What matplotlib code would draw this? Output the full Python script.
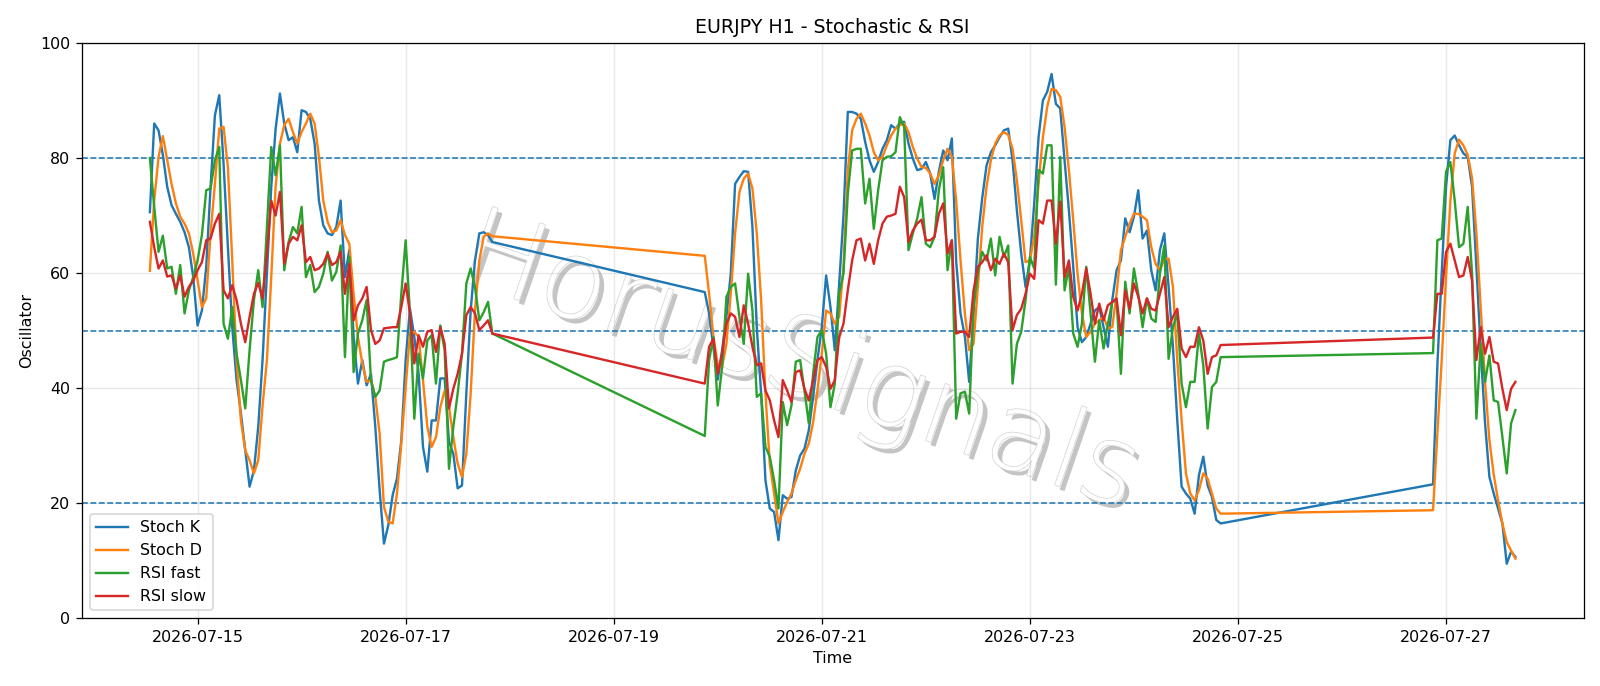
import numpy as np
import pandas as pd
import matplotlib
matplotlib.use("Agg")
import matplotlib.pyplot as plt
import matplotlib.dates as mdates
import matplotlib.patheffects as pe

# ---- data (hourly, three trading segments) ----
segment_starts = ["2026-07-14 13:00", "2026-07-19 21:00", "2026-07-26 21:00"]

stoch_k_1 = [70.6, 86.0, 84.8, 80.5, 75.0, 71.8, 70.3, 68.9, 67.1, 64.5, 59.3,
             50.9, 53.5, 61.1, 75.0, 87.4, 90.9, 79.0, 64.5, 50.6, 41.4,
             35.6, 29.2, 22.9, 25.7, 33.3, 45.0, 60.0, 75.0, 85.0, 91.2,
             86.0, 83.1, 83.6, 81.0, 88.3, 88.0, 86.8, 82.5, 72.6, 68.3,
             66.9, 66.6, 68.0, 72.6, 59.3, 64.0, 48.9, 40.8, 44.9, 40.5,
             42.5, 33.3, 22.3, 13.0, 16.2, 21.4, 24.3, 30.9, 44.9, 53.8,
             48.9, 42.5, 29.8, 25.5, 34.4, 34.4, 41.7, 41.7, 30.7, 28.6,
             22.6, 23.1, 39.1, 53.5, 62.2, 66.9, 67.1, 66.6, 65.4]
stoch_d_1 = [60.4, 72.6, 80.2, 83.8, 79.6, 75.5, 72.1, 69.8, 68.6, 66.9, 63.4,
             58.7, 54.1, 55.6, 66.9, 75.5, 85.1, 85.4, 78.4, 62.2, 44.9,
             34.4, 29.2, 27.5, 25.2, 27.5, 37.0, 44.9, 59.3, 75.0, 82.5,
             85.7, 86.8, 84.5, 82.5, 84.5, 86.0, 87.7, 86.0, 80.2, 72.6,
             68.9, 67.1, 67.4, 69.2, 66.6, 65.1, 56.4, 48.9, 44.3, 41.1,
             41.4, 38.5, 32.1, 19.4, 16.8, 16.5, 21.7, 30.4, 40.2, 49.5,
             49.8, 48.9, 41.4, 33.3, 29.8, 31.5, 36.7, 39.6, 36.7, 31.5,
             26.9, 24.6, 28.6, 39.1, 53.5, 62.2, 66.3, 66.9, 66.4]
rsi_fast_1 = [80.0, 71.5, 63.7, 66.5, 60.8, 61.1, 56.4, 61.4, 53.0, 57.0, 59.3,
              62.2, 66.6, 74.4, 74.7, 79.6, 81.9, 51.2, 48.6, 54.1, 46.0,
              41.4, 36.5, 46.6, 55.3, 60.5, 54.1, 68.0, 81.9, 77.0, 82.2,
              60.5, 65.4, 68.0, 66.9, 71.5, 59.3, 61.4, 56.7, 57.6, 59.9,
              63.7, 58.7, 60.2, 64.8, 45.4, 62.8, 42.8, 49.5, 51.8, 55.3,
              41.4, 38.5, 39.6, 44.6, 44.9, 45.1, 45.4, 56.4, 65.7, 53.0,
              34.7, 46.0, 41.7, 48.3, 49.2, 40.8, 50.9, 46.6, 26.0, 33.3,
              39.1, 46.0, 58.2, 60.8, 57.6, 51.8, 53.2, 55.0, 49.5]
rsi_slow_1 = [68.9, 64.5, 60.8, 62.2, 59.4, 59.6, 57.3, 59.6, 55.9, 57.6, 58.7,
              60.5, 61.9, 65.7, 66.0, 68.6, 70.3, 57.0, 55.6, 57.9, 55.3,
              51.2, 48.0, 52.4, 56.4, 58.3, 55.6, 63.4, 72.6, 70.0, 74.1,
              61.6, 65.1, 66.3, 65.7, 68.3, 61.9, 62.8, 60.5, 60.8, 61.6,
              63.4, 61.4, 61.9, 63.7, 56.4, 61.6, 51.8, 54.4, 55.6, 57.6,
              50.1, 47.7, 48.3, 50.4, 50.5, 50.6, 50.6, 54.1, 58.2, 53.0,
              44.3, 49.2, 47.2, 49.8, 50.1, 46.3, 50.6, 47.7, 36.5, 39.9,
              42.5, 46.0, 52.7, 54.1, 53.0, 50.1, 50.9, 51.8, 49.5]

stoch_k_2 = [56.7, 53.0, 47.0, 41.5, 46.6, 52.4, 59.9, 75.5, 76.7, 77.7,
             77.6, 68.0, 50.6, 39.1, 24.0, 19.1, 18.5, 13.6, 21.4, 20.8,
             21.1, 25.7, 28.3, 29.5, 32.7, 38.5, 44.9, 50.6, 59.6, 54.1,
             46.6, 58.0, 70.0, 88.0, 88.0, 87.7, 86.8, 82.8, 79.6, 77.6,
             79.3, 81.6, 83.1, 85.7, 85.1, 86.0, 86.3, 82.5, 79.9, 77.9,
             78.1, 79.3, 77.3, 72.9, 77.6, 81.3, 79.6, 83.4, 62.0, 53.0,
             49.0, 41.1, 53.0, 66.0, 73.0, 78.7, 81.0, 82.2, 83.6, 84.8,
             85.1, 79.6, 70.9, 63.4, 57.6, 62.2, 72.1, 83.6, 90.0, 91.5,
             94.6, 89.4, 88.6, 79.6, 70.9, 61.1, 50.6, 48.0, 48.9, 51.2,
             53.5, 54.1, 50.6, 47.2, 55.3, 60.5, 62.2, 69.5, 67.1, 69.8,
             74.4, 66.0, 67.4, 60.5, 57.0, 64.0, 66.9, 57.6, 47.2, 34.4,
             22.9, 21.7, 20.8, 18.2, 24.9, 28.1, 23.1, 21.1, 17.1, 16.5]
stoch_d_2 = [63.0, 56.4, 48.9, 44.0, 43.7, 47.7, 56.4, 66.9, 74.1, 76.4,
             77.3, 74.7, 66.9, 55.3, 39.1, 26.9, 21.7, 16.5, 18.5, 20.2,
             21.7, 24.0, 26.0, 28.6, 30.4, 34.1, 39.6, 46.0, 53.5, 53.0,
             51.2, 52.4, 61.1, 77.9, 84.8, 86.8, 87.7, 86.0, 83.9, 81.0,
             79.6, 80.2, 82.2, 83.9, 85.1, 85.7, 86.0, 84.5, 81.9, 79.9,
             78.4, 78.3, 77.3, 75.5, 77.0, 79.6, 81.6, 80.2, 72.6, 62.2,
             53.0, 46.6, 47.7, 57.6, 68.0, 75.0, 79.6, 82.5, 83.9, 84.5,
             84.0, 81.6, 76.1, 69.2, 61.9, 62.2, 66.3, 75.5, 83.6, 88.9,
             92.0, 91.8, 90.6, 85.4, 77.9, 69.2, 59.9, 53.0, 48.9, 49.8,
             51.2, 51.8, 52.4, 50.4, 50.6, 56.4, 64.0, 66.3, 68.6, 70.3,
             70.3, 69.8, 69.2, 64.5, 61.6, 60.5, 62.5, 62.5, 57.6, 44.9,
             34.4, 25.2, 21.7, 20.5, 22.3, 25.2, 24.3, 21.7, 19.1, 18.2]
rsi_fast_2 = [31.7, 44.9, 48.9, 37.0, 43.7, 55.9, 57.6, 58.2, 52.4, 47.7,
              59.9, 53.5, 38.5, 39.1, 29.8, 28.1, 24.0, 19.1, 37.6, 33.6,
              37.0, 44.6, 44.9, 39.6, 33.9, 42.5, 48.9, 50.1, 46.0, 36.7,
              40.8, 56.4, 59.9, 73.8, 81.3, 81.6, 81.6, 72.1, 76.4, 67.7,
              74.4, 79.6, 80.2, 80.3, 81.0, 87.1, 85.4, 64.0, 66.9, 69.5,
              73.2, 65.1, 64.5, 66.3, 74.4, 78.4, 60.5, 65.7, 34.7, 39.1,
              39.4, 35.6, 54.1, 59.9, 63.7, 62.2, 66.0, 59.6, 66.3, 62.8,
              64.8, 40.8, 47.7, 49.8, 55.3, 62.8, 60.8, 77.9, 77.3, 82.2,
              82.2, 58.0, 80.2, 57.0, 61.1, 49.5, 47.2, 51.2, 61.1, 53.0,
              44.6, 51.8, 46.9, 51.2, 55.0, 55.3, 42.5, 58.5, 53.0, 60.8,
              56.4, 50.6, 55.6, 52.1, 51.5, 59.9, 64.8, 45.1, 50.6, 53.0,
              40.8, 36.7, 41.1, 41.1, 49.5, 44.0, 33.0, 40.2, 41.1, 45.4]
rsi_slow_2 = [40.8, 47.2, 48.6, 42.5, 46.0, 51.2, 53.0, 52.4, 48.9, 54.4,
              51.2, 47.2, 44.0, 44.3, 39.6, 37.9, 34.4, 31.5, 41.4, 39.6,
              37.6, 42.8, 43.1, 39.9, 37.9, 41.4, 44.9, 45.4, 43.7, 39.9,
              41.4, 48.9, 51.2, 57.0, 62.2, 65.7, 66.0, 62.2, 65.1, 61.6,
              65.7, 68.6, 69.8, 70.0, 70.3, 75.0, 73.2, 65.4, 67.4, 68.6,
              69.3, 65.7, 65.7, 66.3, 70.3, 72.1, 63.4, 65.7, 49.5, 49.8,
              49.8, 48.9, 57.0, 61.1, 61.9, 63.1, 60.5, 62.5, 61.6, 63.4,
              61.9, 50.1, 52.7, 53.8, 56.4, 59.9, 59.0, 69.2, 68.6, 72.6,
              72.6, 65.1, 72.4, 59.3, 62.2, 55.9, 53.5, 56.4, 60.8, 56.4,
              51.2, 54.7, 51.8, 54.4, 55.0, 55.6, 49.2, 57.0, 53.8, 58.2,
              55.9, 53.0, 55.6, 53.8, 53.5, 56.4, 59.3, 50.6, 52.4, 53.8,
              46.9, 45.4, 47.2, 47.2, 50.6, 48.3, 42.5, 45.4, 45.7, 47.5]

stoch_k_3 = [23.3, 44.0, 60.0, 75.0, 83.1, 83.9, 82.2, 80.8, 80.2, 75.0,
             61.1, 46.6, 33.9, 24.6, 21.7, 19.1, 16.5, 9.5, 11.6, 10.7]
stoch_d_3 = [18.8, 32.1, 44.9, 59.3, 72.6, 80.8, 83.2, 82.2, 80.5, 76.5,
             67.0, 54.0, 41.0, 31.0, 25.0, 20.5, 16.5, 13.3, 11.8, 10.4]
rsi_fast_3 = [46.1, 65.7, 66.0, 77.6, 79.3, 72.6, 64.5, 65.1, 71.5, 59.9,
              34.7, 47.7, 41.1, 45.7, 37.9, 37.6, 31.5, 25.2, 33.9, 36.2]
rsi_slow_3 = [48.8, 56.4, 56.4, 63.7, 65.1, 62.2, 59.3, 59.6, 62.8, 58.7,
              44.9, 50.6, 46.0, 48.9, 44.6, 44.3, 39.9, 36.2, 39.9, 41.1]

levels = [80, 50, 20]
series_labels = ["Stoch K", "Stoch D", "RSI fast", "RSI slow"]

# ---- assemble ----
seg_lengths = [len(stoch_k_1), len(stoch_k_2), len(stoch_k_3)]
times = pd.DatetimeIndex(np.concatenate(
    [pd.date_range(s, periods=n, freq="h").values for s, n in zip(segment_starts, seg_lengths)]))
stoch_k = np.concatenate([stoch_k_1, stoch_k_2, stoch_k_3])
stoch_d = np.concatenate([stoch_d_1, stoch_d_2, stoch_d_3])
rsi_fast = np.concatenate([rsi_fast_1, rsi_fast_2, rsi_fast_3])
rsi_slow = np.concatenate([rsi_slow_1, rsi_slow_2, rsi_slow_3])

DPI = 1600 / 14
fig, ax = plt.subplots(figsize=(14, 686 / DPI), dpi=DPI)
fig.subplots_adjust(left=0.051, right=0.9898, bottom=0.0985, top=0.9375)

# watermark
ax.text(0.478, 0.44, "HorusSignals", transform=ax.transAxes,
        fontsize=69, fontweight="light", rotation=-19, ha="center", va="center",
        color="white", alpha=0.9, zorder=1.5,
        path_effects=[pe.SimplePatchShadow(offset=(3, -3), shadow_rgbFace="#b0b0b0", alpha=0.75),
                      pe.Stroke(linewidth=0.8, foreground="#cccccc"),
                      pe.Normal()])

for vals, lab in zip([stoch_k, stoch_d, rsi_fast, rsi_slow], series_labels):
    ax.plot(times, vals, label=lab, zorder=3)

for lvl in levels:
    ax.axhline(lvl, linestyle="--", linewidth=1.0, color="C0", zorder=2)

ax.set_ylim(0, 100)
ax.grid(True, alpha=0.3)
ax.xaxis.set_major_locator(mdates.DayLocator(bymonthday=[15, 17, 19, 21, 23, 25, 27]))
ax.xaxis.set_major_formatter(mdates.DateFormatter("%Y-%m-%d"))
ax.set_title("EURJPY H1 - Stochastic & RSI")
ax.set_xlabel("Time")
ax.set_ylabel("Oscillator")
ax.legend(loc="lower left")

fig.savefig("out.png", dpi=DPI)
